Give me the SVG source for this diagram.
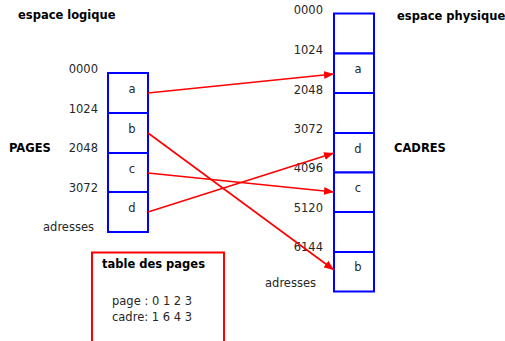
<svg xmlns="http://www.w3.org/2000/svg" width="505" height="341" viewBox="0 0 505 341">
<style>
text{font-family:"DejaVu Sans","Liberation Sans",sans-serif;font-size:11.5px;fill:#262626}
.b{font-weight:bold;fill:#000}
.r{text-anchor:end}
.m{text-anchor:middle}
.cell{fill:#fff;stroke:#0000ff;stroke-width:2}
.arr{stroke:#ff0000;stroke-width:1.6;fill:none;marker-end:url(#ah)}
</style>
<defs>
<marker id="ah" viewBox="0 0 10 8" refX="10" refY="4" markerWidth="10" markerHeight="8" markerUnits="userSpaceOnUse" orient="auto">
<path d="M0,0 L10,4 L0,8 Z" fill="#ff0000"/>
</marker>
</defs>
<rect width="505" height="341" fill="#fff"/>
<g id="labels">
<text class="b" x="18" y="19">espace logique</text>
<text class="b" x="397" y="20">espace physique</text>
<text class="b" x="9" y="152">PAGES</text>
<text class="b" x="394" y="152">CADRES</text>
<text class="r" x="98" y="73">0000</text>
<text class="r" x="98" y="113">1024</text>
<text class="r" x="98" y="152">2048</text>
<text class="r" x="98" y="192">3072</text>
<text class="r" x="94" y="231">adresses</text>
<text class="r" x="323" y="14">0000</text>
<text class="r" x="323" y="54">1024</text>
<text class="r" x="323" y="94">2048</text>
<text class="r" x="323" y="133">3072</text>
<text class="r" x="323" y="172">4096</text>
<text class="r" x="323" y="212">5120</text>
<text class="r" x="323" y="251">6144</text>
<text class="r" x="316" y="287">adresses</text>
</g>
<g id="pages">
<g id="page-a"><rect class="cell" x="108" y="73" width="40" height="40"/><text class="m" x="132" y="93">a</text></g>
<g id="page-b"><rect class="cell" x="108" y="113" width="40" height="40"/><text class="m" x="132" y="133">b</text></g>
<g id="page-c"><rect class="cell" x="108" y="153" width="40" height="39"/><text class="m" x="132" y="173">c</text></g>
<g id="page-d"><rect class="cell" x="108" y="192" width="40" height="40"/><text class="m" x="132" y="212">d</text></g>
</g>
<g id="cadres">
<g id="cadre-0"><rect class="cell" x="334" y="13.5" width="40" height="40"/></g>
<g id="cadre-1"><rect class="cell" x="334" y="53.5" width="40" height="39.5"/><text class="m" x="358" y="73">a</text></g>
<g id="cadre-2"><rect class="cell" x="334" y="93" width="40" height="40"/></g>
<g id="cadre-3"><rect class="cell" x="334" y="133" width="40" height="39.5"/><text class="m" x="358" y="153">d</text></g>
<g id="cadre-4"><rect class="cell" x="334" y="172.5" width="40" height="39.5"/><text class="m" x="358" y="192">c</text></g>
<g id="cadre-5"><rect class="cell" x="334" y="212" width="40" height="40"/></g>
<g id="cadre-6"><rect class="cell" x="334" y="252" width="40" height="39.5"/><text class="m" x="358" y="271">b</text></g>
</g>
<g id="connectors">
<line class="arr" x1="148" y1="93" x2="334" y2="74"/>
<line class="arr" x1="148" y1="133" x2="334" y2="270"/>
<line class="arr" x1="148" y1="173" x2="334" y2="192"/>
<line class="arr" x1="148" y1="212" x2="334" y2="153"/>
</g>
<g id="table">
<rect x="92" y="252.5" width="132" height="100" fill="none" stroke="#ff0000" stroke-width="2"/>
<text class="b" x="102" y="268">table des pages</text>
<text x="112" y="305">page : 0 1 2 3</text>
<text x="112" y="321">cadre: 1 6 4 3</text>
</g>
</svg>
